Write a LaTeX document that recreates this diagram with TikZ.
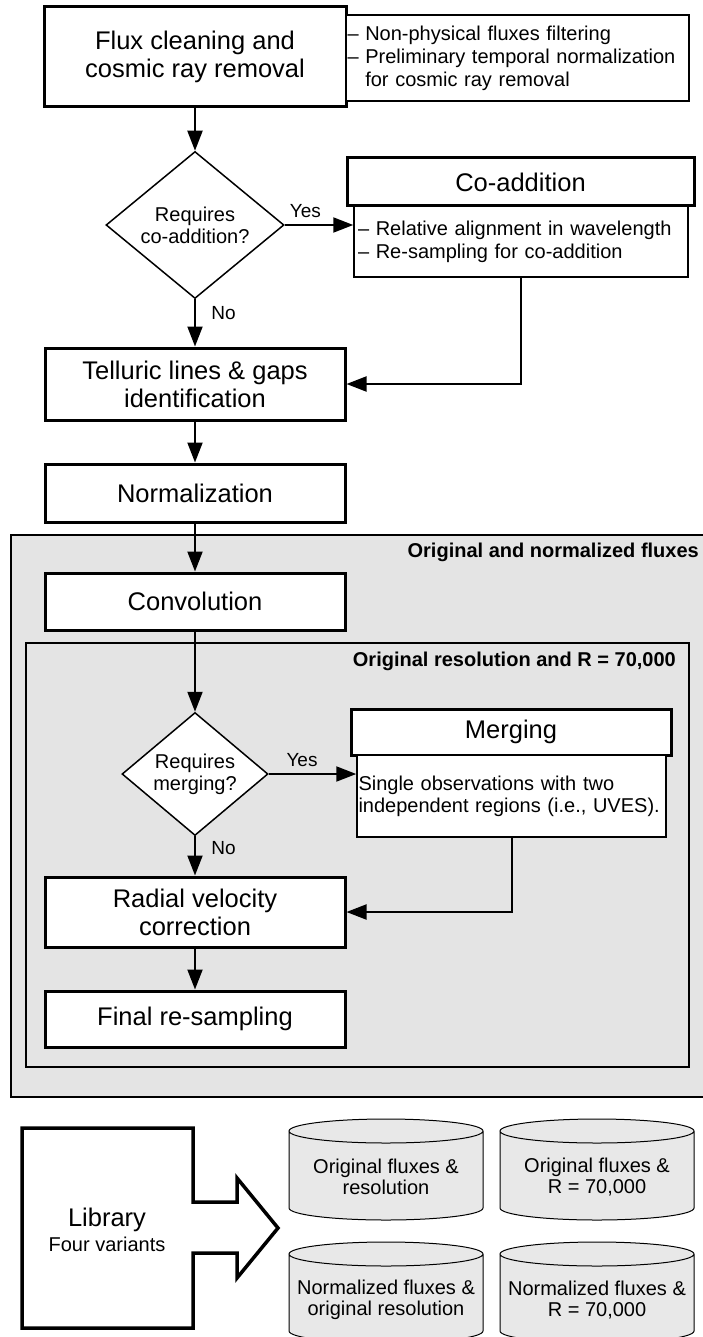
\documentclass[tikz,border=0pt]{standalone}
\usepackage{fontspec}
\setmainfont{Liberation Sans}
\usepackage{tikz}
\usetikzlibrary{shapes.geometric, arrows.meta, positioning}
\usepackage{xcolor}
\definecolor{panelgray}{HTML}{E4E4E4}
\definecolor{dbgray}{HTML}{E8E8E8}

\begin{document}
\begin{tikzpicture}[
        x=1pt, y=1pt,
        >={Triangle[length=20pt,width=15pt]},
        process/.style={draw, rectangle, line width=3pt, fill=white, align=center, inner sep=0pt, minimum width=300, font=\fontsize{25.5}{28}\selectfont},
        note/.style={draw, rectangle, line width=1.5pt, fill=white, align=left, inner ysep=0pt, font=\fontsize{20}{23}\selectfont},
        decision/.style={draw, diamond, line width=1.5pt, fill=white, align=center, inner sep=0pt, font=\fontsize{20}{22}\selectfont},
        panel/.style={draw, line width=1.5pt, fill=panelgray},
        paneltitle/.style={anchor=east, inner sep=0pt, font=\fontsize{20}{23}\selectfont\bfseries},
        tag/.style={font=\fontsize{19}{22}\selectfont},
        flow/.style={->, line width=2pt},
        db/.style={draw, line width=1pt, fill=dbgray},
        dbtext/.style={align=center, inner sep=0pt, font=\fontsize{20}{21}\selectfont}
      ]

      \useasboundingbox (0,0) rectangle (702,-1337);

      % Background panels
      \draw[panel] (11,-535) rectangle (705,-1097);
      \node[paneltitle] (fluxtitle) at (699,-552) {Original and normalized fluxes};
      \draw[panel] (26,-643) rectangle (689,-1067);
      \node[paneltitle] (restitle) at (676,-661) {Original resolution and R = 70,000};

      % Cleaning and co-addition
      \node[process, minimum width=302, minimum height=100] (flux) at (195,-57) {Flux cleaning and\\cosmic ray removal};
      \node[note, minimum width=343, minimum height=86, inner xsep=1.5pt, text width=340] (fluxnote) at (517.5,-58) {-- Non-physical fluxes filtering\\-- Preliminary temporal normalization\\\phantom{-- }for cosmic ray removal};

      \node[decision, minimum width=178, minimum height=147, aspect=1.2] (coadq) at (195,-225) {Requires\\co-addition?};
      \node[process, minimum width=347, minimum height=48] (coaddhead) at (520.5,-182) {Co-addition};
      \node[note, minimum width=334, minimum height=71, inner xsep=4pt, text width=326] (coaddbody) at (521,-241.5) {-- Relative alignment in wavelength\\-- Re-sampling for co-addition};

      \node[process, minimum height=72] (telluric) at (195,-384) {Telluric lines \& gaps\\identification};
      \node[process, minimum height=58] (norm) at (195,-493) {Normalization};
      \node[process, minimum height=57] (conv) at (195,-601.5) {Convolution};

      % Merging and final steps
      \node[decision, minimum width=146, minimum height=123, aspect=1.19] (mergeq) at (195,-774) {Requires\\merging?};
      \node[process, minimum width=320, minimum height=46] (mergehead) at (511,-732) {Merging};
      \node[note, minimum width=309, minimum height=82, inner xsep=1.5pt, text width=306, font=\fontsize{20}{22}\selectfont] (mergebody) at (511.5,-796) {Single observations with two\\independent regions (i.e., UVES).};

      \node[process, minimum height=70] (radial) at (195,-912) {Radial velocity\\correction};
      \node[process, minimum height=56] (final) at (195,-1019) {Final re-sampling};

      % Connectors
      \draw[flow] (flux) -- (coadq);
      \draw[flow] (coadq.east) -- (coadq.east -| coaddbody.west) node[tag, above=3pt, pos=0.3] (yes1) {Yes};
      \draw[flow] (coadq.south) -- (telluric.north) node[tag, right=12pt, pos=0.3] (no1) {No};
      \draw[flow] (coaddbody.south) |- (telluric.east);
      \draw[flow] (telluric) -- (norm);
      \draw[flow] (norm) -- (conv);
      \draw[flow] (conv.south) -- (mergeq.north);
      \draw[flow] (mergeq.east) -- (mergeq.east -| mergebody.west) node[tag, above=3pt, pos=0.38] (yes2) {Yes};
      \draw[flow] (mergeq.south) -- (radial.north) node[tag, right=12pt, pos=0.3] (no2) {No};
      \draw[flow] (mergebody.south) |- (radial.east);
      \draw[flow] (radial) -- (final);

      % Library output
      \draw[line width=3.5pt, fill=white] (22,-1128) -- (193,-1128) -- (193,-1202) -- (237,-1202) -- (237,-1178) -- (278,-1228) -- (237,-1278) -- (237,-1253) -- (193,-1253) -- (193,-1328) -- (22,-1328) -- cycle;
      \node[align=center, inner sep=0pt, font=\fontsize{25.5}{25}\selectfont] (library) at (107,-1230) {Library\\{\fontsize{20}{25}\selectfont Four variants}};

      \foreach \cx/\cy/\nm/\txt in {386/1131/origres/{Original fluxes \&\\resolution},
                                    597/1131/origR/{Original fluxes \&\\R = 70,000},
                                    386/1254/normres/{Normalized fluxes \&\\original resolution},
                                    597/1254/normR/{Normalized fluxes \&\\R = 70,000}} {
        \filldraw[db] ({\cx-97},{-\cy}) -- ({\cx-97},{-\cy-77}) arc[start angle=180, end angle=360, x radius=97, y radius=12] -- ({\cx+97},{-\cy}) arc[start angle=0, end angle=360, x radius=97, y radius=12];
        \node[dbtext] (\nm) at (\cx,{-\cy-46}) {\txt};
      }

\end{tikzpicture}
\end{document}
